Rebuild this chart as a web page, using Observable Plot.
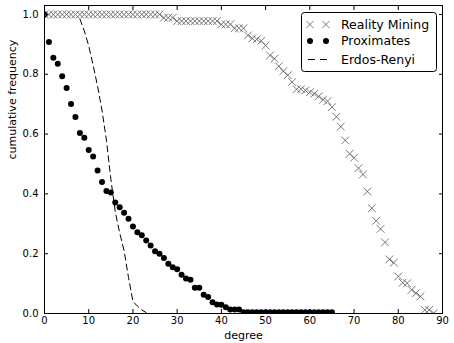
<!DOCTYPE html>
<html><head><meta charset="utf-8">
<script src="https://cdn.jsdelivr.net/npm/d3@7"></script>
<script src="https://cdn.jsdelivr.net/npm/@observablehq/plot@0.6"></script>
<style>body{margin:0;background:#fff;} #chart{width:454px;height:343px;}</style>
</head><body><div id="chart"></div>
<script>
// Reality Mining (× markers)
const realityDegree = [0,1,2,3,4,5,6,7,8,9,10,11,12,13,14,15,16,17,18,19,20,21,22,23,24,25,26,27,28,29,30,31,32,33,34,35,36,37,38,39,40,41,42,43,44,45,46,47,48,49,50,51,52,53,54,55,56,57,58,59,60,61,62,63,64,65,66,67,68,69,70,71,72,73,74,75,76,77,78,79,80,81,82,83,84,85,86,87,88];
const realityValue = [1,1,1,1,1,1,1,1,1,1,1,1,1,1,1,1,1,1,1,1,1,1,1,1,1,1,1,
  0.989,0.989,0.989,
  0.978,0.978,0.978,0.978,0.978,0.978,0.978,0.978,0.978,0.978,
  0.967,0.967,0.967,
  0.954,0.954,0.954,
  0.93,0.92,0.917,0.912,0.896,0.863,0.852,0.827,0.81,0.797,0.774,0.75,0.75,0.746,0.74,0.735,0.726,0.715,0.71,
  0.69,0.658,0.625,0.579,0.534,0.521,0.486,0.465,0.408,0.352,0.31,0.283,0.238,0.181,0.17,0.124,0.103,0.101,0.079,0.068,0.057,0.012,0.012,0.001];

// Proximates (filled dots)
const proxDegree = [0,1,2,3,4,5,6,7,8,9,10,11,12,13,14,15,16,17,18,19,20,21,22,23,24,25,26,27,28,29,30,31,32,33,34,35,36,37,38,39,40,41,42,43,44,45,46,47,48,49,50,51,52,53,54,55,56,57,58,59,60,61,62,63,64,65];
const proxValue = [1.0,0.908,0.855,0.835,0.793,0.754,0.701,0.657,0.604,0.588,0.547,0.525,0.478,0.44,0.41,0.405,0.371,0.355,0.337,0.317,
  0.291,0.272,0.262,0.244,0.227,0.208,0.2,0.186,0.166,0.155,0.148,0.13,0.117,0.113,0.086,0.086,0.063,0.055,0.038,0.03,0.029,0.021,0.013,0.013,0.013,
  0.004,0.004,0.004,0.004,0.004,0.004,0.004,0.004,0.004,0.004,0.004,0.004,0.004,0.004,0.004,0.004,0.004,0.004,0.004,0.004,0.004];

// Erdos-Renyi (dashed line)
const erDegree = [8,9,10,11,12,13,14,15,16,17,18,19,20,21,22,23];
const erValue = [0.985,0.945,0.895,0.83,0.76,0.68,0.58,0.45,0.34,0.27,0.21,0.12,0.04,0.025,0.012,0.003];

const xTicks = [0,10,20,30,40,50,60,70,80,90];
const yTicks = [0,0.2,0.4,0.6,0.8,1.0];
const seriesNames = ["Reality Mining","Proximates","Erdos-Renyi"];
const xLabel = "degree";
const yLabel = "cumulative frequency";

const reality = realityDegree.map((d,i)=>({degree:d, value:realityValue[i]}));
const prox = proxDegree.map((d,i)=>({degree:d, value:proxValue[i]}));
const er = erDegree.map((d,i)=>({degree:d, value:erValue[i]}));

const fmt = d3.format(".1f");
const chart = Plot.plot({
  width: 454, height: 343,
  marginLeft: 44, marginRight: 12, marginTop: 5, marginBottom: 30,
  style: {fontFamily: "DejaVu Sans", fontSize: "10px", background: "white", color: "black"},
  x: {domain: [0, 90]},
  y: {domain: [0, 1.03]},
  marks: [
    Plot.line(er, {x: "degree", y: "value", stroke: "black", strokeWidth: 1, strokeDasharray: "6,4", clip: true}),
    Plot.dot(prox, {x: "degree", y: "value", r: 3, fill: "black", stroke: "none", clip: true}),
    Plot.dot(reality, {x: "degree", y: "value", symbol: "times", r: 3.6, stroke: "#555", strokeWidth: 0.8, clip: true}),
    Plot.frame({stroke: "black", strokeWidth: 1}),
    Plot.axisX(xTicks, {anchor: "bottom", tickSize: -4, tickPadding: 7, tickFormat: d => String(d), label: null}),
    Plot.axisX(xTicks, {anchor: "top", tickSize: -4, tickFormat: () => "", label: null}),
    Plot.axisY(yTicks, {anchor: "left", tickSize: -4, tickPadding: 10, tickFormat: fmt, label: null}),
    Plot.axisY(yTicks, {anchor: "right", tickSize: -4, tickFormat: () => "", label: null}),
    Plot.text([xLabel], {frameAnchor: "bottom", dy: 22, fontSize: 11, lineAnchor: "middle"}),
    Plot.text([yLabel], {frameAnchor: "left", dx: -32, rotate: -90, fontSize: 11})
  ]
});
document.getElementById("chart").appendChild(chart);

// Legend
const svg = d3.select(chart);
const lg = svg.append("g").attr("transform", "translate(301,12)").attr("text-anchor", "start");
lg.append("rect").attr("x",0.5).attr("y",0.5).attr("width",135).attr("height",59).attr("rx",3)
  .attr("fill","white").attr("stroke","black").attr("stroke-width",1);
const rowY = [12.5, 29, 47.5];
const sym = d3.symbol().type(d3.symbolTimes).size(Math.PI*3.3*3.3);
seriesNames.forEach((name, i) => {
  const y = rowY[i];
  if (i === 0) {
    [9, 25].forEach(x => lg.append("path").attr("d", sym()).attr("transform", `translate(${x},${y})`)
      .attr("fill","none").attr("stroke","#555").attr("stroke-width",0.8));
  } else if (i === 1) {
    [9, 25].forEach(x => lg.append("circle").attr("cx",x).attr("cy",y).attr("r",3).attr("fill","black"));
  } else {
    lg.append("line").attr("x1",7).attr("x2",26).attr("y1",y).attr("y2",y)
      .attr("stroke","black").attr("stroke-dasharray","7,5").attr("stroke-width",1);
  }
  lg.append("text").attr("x",40).attr("y",y).attr("dy","0.35em").attr("text-anchor","start")
    .attr("font-family","DejaVu Sans").attr("font-size","12.5px").attr("fill","black").text(name);
});
</script>
</body></html>
